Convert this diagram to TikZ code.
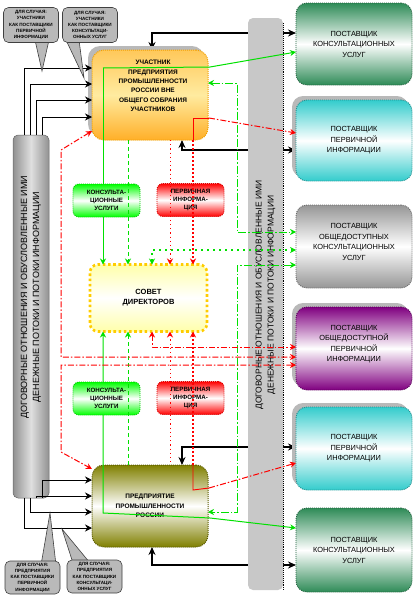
\documentclass[tikz,border=0pt]{standalone}
\usepackage{fontspec}
\setmainfont{Liberation Sans}
\usetikzlibrary{arrows.meta,shadows,backgrounds}
\definecolor{grn}{RGB}{0,225,0}
\definecolor{bgrn}{RGB}{0,255,0}
\definecolor{dgrn}{RGB}{46,139,87}
\definecolor{cyn}{RGB}{51,204,204}
\definecolor{purp}{RGB}{128,0,128}
\definecolor{oliv}{RGB}{128,128,0}
\definecolor{boxgray}{RGB}{150,150,150}
\definecolor{ylw}{RGB}{255,204,0}
\definecolor{sdy}{RGB}{255,255,170}
\definecolor{rbar}{RGB}{200,200,200}
\definecolor{lbar}{RGB}{145,145,145}
\definecolor{callg}{RGB}{185,185,185}
\definecolor{orT}{RGB}{255,200,90}
\definecolor{orM}{RGB}{255,235,160}
\definecolor{orB}{RGB}{255,175,40}
\definecolor{orD}{RGB}{240,160,0}
\tikzset{
  prov/.style={rounded corners=11pt, minimum width=116pt, align=center,
    font=\fontsize{7.4}{10.5}\selectfont, line width=0.9pt, dash pattern=on 1pt off 1pt},
  provtext/.style={align=center, font=\fontsize{7.4}{10.5}\selectfont},
  grad/.style={top color=#1, bottom color=#1, middle color=white, draw=#1!70!black},
  shad/.style={drop shadow={shadow xshift=-4pt, shadow yshift=4pt, fill=gray!55, opacity=1}},
  smallbox/.style={rounded corners=6pt, minimum width=67pt, minimum height=33pt, align=center,
    font=\bfseries\fontsize{6.2}{8}\selectfont, line width=0.9pt, dash pattern=on 1pt off 1pt},
  callout/.style={rounded corners=5pt, fill=callg, draw=black!75, line width=0.6pt,
    minimum width=55pt, minimum height=35pt, align=center, font=\bfseries\fontsize{4.6}{6.2}\selectfont},
  tail/.style={fill=callg, draw=black!75, line width=0.6pt},
  blk/.style={draw=black, line width=1.4pt, {Stealth[length=8pt,width=7pt]}-{Stealth[length=8pt,width=7pt]}},
  ltl/.style={draw=black, line width=0.8pt, -{Stealth[length=7pt,width=7pt]}},
  tipE/.style={-{Stealth[length=6pt,width=6pt]}},
  tipB/.style={{Stealth[length=6pt,width=6pt]}-{Stealth[length=6pt,width=6pt]}},
  tipS/.style={{Stealth[length=6pt,width=6pt]}-},
  gsol/.style={draw=grn, line width=1pt},
  gdash/.style={draw=grn, line width=1pt, dash pattern=on 4pt off 3pt},
  gdot/.style={draw=grn, line width=1.4pt, dash pattern=on 2pt off 4pt},
  gdd/.style={draw=grn, line width=1pt, dash pattern=on 8pt off 2pt on 1.5pt off 2pt},
  rsol/.style={draw=red, line width=0.9pt},
  rthin/.style={draw=red, line width=1pt, dash pattern=on 1.2pt off 3pt},
  rthick/.style={draw=red, line width=2pt, dash pattern=on 2pt off 2pt},
  rdd/.style={draw=red, line width=1pt, dash pattern=on 6pt off 2pt on 1.5pt off 2pt},
}
\begin{document}
\begin{tikzpicture}[x=1pt,y=-1pt, every node/.style={inner sep=0pt, outer sep=0pt}]
\useasboundingbox (0,0) rectangle (418,597);

% ---- vertical bars ----
\node[fill=rbar, rounded corners=5pt, minimum width=35pt, minimum height=572pt] (rb) at (265.5,304) {};
\draw[densely dotted, line width=0.9pt] ([yshift=-5pt]rb.north east) -- (rb.south east);
\node[rotate=90, align=center, font=\fontsize{8.5}{12}\selectfont] (rbt) at (265.5,295)
  {ДОГОВОРНЫЕ ОТНОШЕНИЯ И ОБУСЛОВЛЕННЫЕ ИМИ\\ДЕНЕЖНЫЕ ПОТОКИ И ПОТОКИ ИНФОРМАЦИИ};

\node[left color=lbar, right color=lbar, middle color=gray!25, draw=black!60, line width=0.5pt,
  rounded corners=5pt, minimum width=36pt, minimum height=363pt] (lb) at (31,316.5) {};
\node[rotate=90, align=center, font=\fontsize{9}{12}\selectfont] (lbt) at (31,297)
  {ДОГОВОРНЫЕ ОТНОШЕНИЯ И ОБУСЛОВЛЕННЫЕ ИМИ\\ДЕНЕЖНЫЕ ПОТОКИ И ПОТОКИ ИНФОРМАЦИИ};

% ---- providers ----
\node[prov, grad=dgrn, minimum height=82pt] (p1) at (354,44) {ПОСТАВЩИК\\КОНСУЛЬТАЦИОННЫХ\\УСЛУГ};
\node[prov, grad=cyn, shad, minimum height=81pt] (p2) at (354,140.5) {ПОСТАВЩИК\\ПЕРВИЧНОЙ\\ИНФОРМАЦИИ};
\node[prov, grad=boxgray, minimum height=83pt] (p3) at (354,246.5) {};
\node[provtext] (p3t) at (354,242) {ПОСТАВЩИК\\ОБЩЕДОСТУПНЫХ\\КОНСУЛЬТАЦИОННЫХ\\УСЛУГ};
\node[prov, grad=purp, shad, minimum height=83pt] (p4) at (354,348.5) {};
\node[provtext] (p4t) at (354,344) {ПОСТАВЩИК\\ОБЩЕДОСТУПНОЙ\\ПЕРВИЧНОЙ\\ИНФОРМАЦИИ};
\node[prov, grad=cyn, shad, minimum height=83pt] (p5) at (354,448.5) {ПОСТАВЩИК\\ПЕРВИЧНОЙ\\ИНФОРМАЦИИ};
\node[prov, grad=dgrn, minimum height=84pt] (p6) at (354,550) {ПОСТАВЩИК\\КОНСУЛЬТАЦИОННЫХ\\УСЛУГ};

% ---- main boxes ----
\node[rounded corners=12pt, minimum width=116pt, minimum height=90pt, top color=orT, bottom color=orB,
  middle color=orM, draw=orD, line width=1pt, dash pattern=on 1pt off 1pt, shad] (tb) at (150,95) {};
\node[font=\bfseries\fontsize{6.5}{9.3}\selectfont, align=center] (tbt) at (153,86)
  {УЧАСТНИК\\ПРЕДПРИЯТИЯ\\ПРОМЫШЛЕННОСТИ\\РОССИИ ВНЕ\\ОБЩЕГО СОБРАНИЯ\\УЧАСТНИКОВ};
\node[rounded corners=12pt, minimum width=116pt, minimum height=82pt, grad=oliv, line width=1pt,
  dash pattern=on 1pt off 1pt, font=\bfseries\fontsize{6.5}{9.3}\selectfont, align=center] (bb) at (150,506)
  {ПРЕДПРИЯТИЕ\\ПРОМЫШЛЕННОСТИ\\РОССИИ};
\node[rounded corners=8pt, minimum width=117pt, minimum height=67pt, top color=sdy, bottom color=sdy,
  middle color=white, draw=ylw, line width=2.6pt, dash pattern=on 2.6pt off 2.6pt,
  font=\bfseries\fontsize{7.5}{10}\selectfont, align=center] (sd) at (148.5,298) {СОВЕТ\\ДИРЕКТОРОВ};

% ---- solid green (behind small boxes) ----
\coordinate (g1) at (103,68);
\coordinate (g1c) at (210,67);
\coordinate (g2) at (103,513);
\coordinate (g2c) at (210,518);
\draw[gsol, tipE] (g1) -- (g1 |- sd.north);
\draw[gsol, tipE] (g1) -- (g1c) -- ([yshift=-8pt]p1.west);
\draw[gsol, tipS] (g2 |- sd.south) -- (g2) -- (g2c);
\draw[gsol, tipE] (g2c) -- ([yshift=22pt]p6.west);

% ---- small boxes ----
\node[smallbox, top color=bgrn, bottom color=bgrn, middle color=white, draw=bgrn!80!black] (gc1) at (106.5,200.5) {КОНСУЛЬТА-\\ЦИОННЫЕ\\УСЛУГИ};
\node[smallbox, top color=red, bottom color=red, middle color=white, draw=red!85!black] (rp1) at (190.5,200) {ПЕРВИЧНАЯ\\ИНФОРМА-\\ЦИЯ};
\node[smallbox, top color=bgrn, bottom color=bgrn, middle color=white, draw=bgrn!80!black] (gc2) at (106.5,398.5) {КОНСУЛЬТА-\\ЦИОННЫЕ\\УСЛУГИ};
\node[smallbox, top color=red, bottom color=red, middle color=white, draw=red!85!black] (rp2) at (190.5,398) {ПЕРВИЧНАЯ\\ИНФОРМА-\\ЦИЯ};

% ---- green dashed / dotted / dash-dot ----
\coordinate (gd) at (128,200);
\draw[gdash, tipE] (gd |- tb.south) -- (gd |- sd.north);
\draw[gdash, tipS] (gd |- sd.south) -- (gd |- bb.north);
\coordinate (gt) at (152,250);
\draw[gdot, tipB] (gt |- sd.north) -- (gt) -- (gt -| p3.west);
\coordinate (ga) at (237,83);
\coordinate (gb) at (237,232);
\draw[gdd, tipB] (ga -| tb.east) -- (ga) -- (gb) -- (gb -| p3.west);
\coordinate (gc) at (237,265);
\coordinate (ge) at (237,512);
\draw[gdd, tipB] (gc -| p3.west) -- (gc) -- (ge) -- (ge -| bb.east);

% ---- red ----
\coordinate (r1) at (193,118);
\coordinate (r1e) at (209,118);
\draw[rsol] (r1 |- tb.south) -- (r1) -- (r1e);
\draw[rdd, tipE] (r1e) -- ([yshift=7.5pt]p2.west);
\draw[rthick, tipE] (r1 |- tb.south) -- (r1 |- sd.north);
\coordinate (rt) at (170,200);
\draw[rthin, tipE] (rt |- tb.south) -- (rt |- sd.north);
\draw[rthin, tipS] (rt |- sd.south) -- (rt |- bb.north);
\coordinate (r2) at (193,490);
\coordinate (r2e) at (209,488);
\draw[rsol] (r2 |- bb.north) -- (r2) -- (r2e);
\draw[rdd, tipE] (r2e) -- ([yshift=-14.5pt]p5.west);
\draw[rthick, tipS] (r2 |- sd.south) -- (r2 |- bb.north);
\coordinate (rr) at (152,347);
\draw[rdd, tipB] (rr |- sd.south) -- (rr) -- (rr -| p4.west);
\coordinate (rl1) at (61,150);
\coordinate (rl2) at (61,357);
\draw[rdd, tipB] ([yshift=9pt]tb.south west) -- (rl1) -- (rl2) -- (rl2 -| p4.west);
\coordinate (rl3) at (61,365);
\coordinate (rl4) at (61,452);
\draw[rdd, tipB] (rl3 -| p4.west) -- (rl3) -- (rl4) -- ([yshift=-4pt]bb.north west);

% ---- black connectors behind the bar ----
\begin{scope}[on background layer]
\coordinate (b1) at (152,33);
\draw[blk] ([xshift=2pt]tb.north) -- (b1) -- (b1 -| p1.west);
\coordinate (b2) at (182,150);
\draw[blk] ([xshift=32pt]tb.south) -- (b2) -- (b2 -| p2.west);
\coordinate (b3) at (182,447);
\draw[blk] ([xshift=32pt]bb.north) -- (b3) -- (b3 -| p5.west);
\coordinate (b4) at (152,565);
\draw[blk] ([xshift=2pt]bb.south) -- (b4) -- (b4 -| p6.west);
\end{scope}

% ---- left bar lines ----
\coordinate (lt1) at (24,68);
\coordinate (lt2) at (30,84);
\coordinate (lt3) at (36,100);
\coordinate (lt4) at (42,117);
\foreach \c in {lt1,lt2,lt3,lt4} {\draw[ltl] (\c |- lb.north) -- (\c) -- (\c -| tb.west);}
\coordinate (lu1) at (24,528);
\coordinate (lu2) at (30,512);
\coordinate (lu3) at (36,496);
\coordinate (lu4) at (42,480);
\foreach \c in {lu1,lu2,lu3,lu4} {\draw[ltl] (\c |- lb.south) -- (\c) -- (\c -| bb.west);}

% ---- callouts ----
\coordinate (t1) at (42,71);
\coordinate (t2) at (84,78);
\coordinate (t3) at (50,513);
\coordinate (t4) at (62,529);
\draw[tail] (35,40) -- (t1) -- (49,40) -- cycle;
\draw[tail] (66,40) -- (t2) -- (79,40) -- cycle;
\draw[tail] (41,565) -- (t3) -- (56,565) -- cycle;
\draw[tail] (73,563) -- (t4) -- (90,563) -- cycle;
\node[callout] (c1) at (31,25) {ДЛЯ СЛУЧАЯ:\\УЧАСТНИКИ\\КАК ПОСТАВЩИКИ\\ПЕРВИЧНОЙ\\ИНФОРМАЦИИ};
\node[callout] (c2) at (90,25) {ДЛЯ СЛУЧАЯ:\\УЧАСТНИКИ\\КАК ПОСТАВЩИКИ\\КОНСУЛЬТАЦИ-\\ОННЫХ УСЛУГ};
\node[callout, minimum height=33pt] (c3) at (32.5,577.5) {ДЛЯ СЛУЧАЯ:\\ПРЕДПРИЯТИЯ\\КАК ПОСТАВЩИКИ\\ПЕРВИЧНОЙ\\ИНФОРМАЦИИ};
\node[callout, minimum height=33pt] (c4) at (94.5,576.5) {ДЛЯ СЛУЧАЯ:\\ПРЕДПРИЯТИЯ\\КАК ПОСТАВЩИКИ\\КОНСУЛЬТАЦИ-\\ОННЫХ УСЛУГ};
\end{tikzpicture}
\end{document}
